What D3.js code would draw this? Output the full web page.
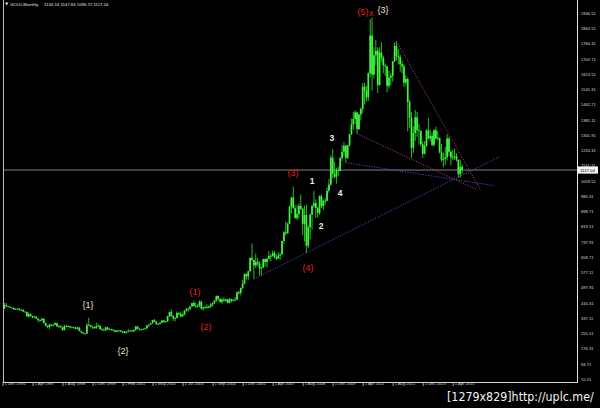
<!DOCTYPE html>
<html>
<head>
<meta charset="utf-8">
<script src="https://cdnjs.cloudflare.com/ajax/libs/d3/7.8.5/d3.min.js"></script>
<style>
  html, body { margin: 0; padding: 0; background: #000; }
  svg { display: block; }
</style>
</head>
<body>
<svg id="chart" width="600" height="408"></svg>
<script>
// GOLD monthly bars, Dec 1995 .. Sep 2015 (broker feed has a few extra bars in 2000-2005)
const firstOpen = 385;
const closes = [
  387,
  405,400,396,392,391,382,385,386,379,379,371,369,
  345,358,348,340,345,334,326,325,332,311,296,290,
  302,297,301,310,293,296,288,273,294,292,294,288,
  287,287,280,286,268,261,255,255,299,299,291,290,
  283,293,296,278,275,272,288,276,279,277,273,264,269,272,265,267,
  258,264,267,271,266,273,293,279,275,277,279,282,297,302,309,326,
  318,304,306,312,324,317,319,347,368,347,336,337,364,358,346,354,
  376,384,386,398,416,400,396,402,424,387,394,396,391,398,408,416,
  429,453,438,422,434,428,436,417,436,429,432,434,473,470,496,517,
  569,556,583,654,643,614,633,624,599,604,648,632,
  650,665,662,680,658,650,666,673,743,789,783,834,
  923,972,916,865,885,928,913,833,880,718,815,882,
  928,942,917,891,979,927,955,955,1008,1040,1182,1096,
  1081,1118,1113,1180,1213,1245,1181,1248,1307,1357,1386,1421,
  1333,1410,1439,1556,1536,1500,1628,1826,1620,1722,1746,1565,
  1737,1710,1669,1664,1561,1604,1614,1690,1772,1719,1713,1675,
  1663,1578,1597,1476,1393,1234,1312,1395,1327,1323,1253,1202,
  1244,1326,1284,1296,1250,1327,1283,1287,1210,1171,1175,1184,
  1283,1213,1183,1184,1190,1172,1095,1134.14,1117.04
];
const highs = [
  389,
  417,416,401,397,395,392,388,390,388,384,384,372,
  370,366,360,349,348,345,335,330,339,337,313,298,
  307,304,304,316,312,299,297,290,300,302,298,297,
  293,293,290,292,290,270,262,259,310,338,302,294,
  293,313,306,298,285,282,291,291,283,281,277,273,273,275,272,269,
  268,267,279,274,272,278,294,293,285,281,283,285,301,305,311,328,
  332,322,310,316,328,326,322,349,372,382,352,342,372,366,371,364,
  378,390,392,400,417,428,420,409,430,428,396,402,409,402,416,419,
  431,456,456,439,441,446,438,437,443,440,436,448,476,480,497,538,
  573,573,587,655,730,644,677,654,636,609,650,650,
  653,690,673,692,691,672,684,679,745,795,845,840,
  930,975,1030,932,934,942,988,917,930,935,825,888,
  933,1006,962,924,984,990,961,968,1025,1071,1195,1227,
  1162,1128,1135,1185,1249,1265,1250,1250,1308,1388,1424,1432,
  1424,1412,1448,1576,1577,1561,1632,1912,1921,1764,1803,1764,
  1764,1791,1720,1679,1665,1640,1628,1692,1790,1796,1755,1726,
  1694,1676,1617,1605,1488,1423,1348,1434,1424,1361,1326,1268,
  1270,1332,1392,1331,1315,1332,1345,1323,1287,1255,1208,1239,
  1307,1293,1220,1224,1232,1205,1172,1170,1147.84
];
const lows = [
  383,
  385,394,393,390,389,380,380,384,377,378,370,366,
  344,339,345,337,339,333,314,318,320,307,292,283,
  278,293,292,299,290,284,287,271,272,288,290,283,
  285,284,278,277,267,257,252,252,254,295,288,279,
  281,282,290,276,272,270,271,275,274,270,267,263,263,266,262,255,
  256,255,262,265,264,265,271,278,271,272,276,276,281,290,300,308,
  315,302,301,302,311,311,314,317,342,345,322,319,335,352,340,342,
  352,370,370,378,397,398,390,394,394,381,375,385,387,389,390,397,
  411,423,428,418,411,423,423,414,414,418,424,425,432,459,456,490,
  515,540,536,582,635,543,600,612,561,560,600,609,
  603,645,636,662,651,642,649,643,671,729,773,782,
  833,886,913,860,852,860,907,774,740,681,705,752,
  802,917,865,866,880,916,905,933,952,997,1035,1075,
  1072,1045,1088,1110,1165,1190,1156,1175,1241,1301,1330,1360,
  1309,1328,1381,1416,1462,1478,1480,1605,1535,1600,1669,1523,
  1562,1689,1628,1612,1527,1547,1564,1583,1687,1694,1673,1635,
  1626,1555,1562,1321,1338,1180,1206,1270,1292,1251,1241,1181,
  1200,1238,1277,1268,1241,1240,1281,1273,1205,1160,1132,1142,
  1167,1191,1142,1170,1170,1162,1077,1077,1096.72
];

// time axis labels, one every 16 bars
const dateLabels = ["1 Dec 1995","1 Apr 1997","1 Aug 1998","1 Dec 1999","1 Feb 2001","1 May 2002",
  "1 Jul 2003","1 Sep 2004","1 Dec 2005","1 Apr 2007","1 Aug 2008","1 Dec 2009",
  "1 Apr 2011","1 Aug 2012","1 Dec 2013","1 Apr 2015"];
const barsPerLabel = 16;

const priceTicks = [1946.51,1863.51,1784.31,1702.71,1623.51,1541.31,1462.71,1381.11,1301.91,
  1220.31,1141.11,1059.51,980.31,898.71,819.51,737.91,658.71,577.11,497.91,416.31,
  337.11,255.51,176.31,94.71,15.51];

const symbol = "GOLD,Monthly";
const lastOHLC = [1134.14, 1147.84, 1096.72, 1117.04];
const lastPrice = 1117.04;

// wave counts: [text, bar index, price, kind]
const waveLabels = [
  ["{1}", 45.6, 406, "major"], ["{2}", 64.2, 163, "major"], ["{3}", 202.8, 1960, "major"],
  ["(1)", 102.6, 474, "inter"], ["(2)", 108.5, 290, "inter"], ["(3)", 154.9, 1101, "inter"],
  ["(4)", 162.9, 601, "inter"], ["(5)", 192.2, 1950, "inter"], ["x", 196.6, 1944, "inter"],
  ["1", 165, 1059, "minor"], ["2", 169.8, 822, "minor"], ["3", 175.6, 1286, "minor"], ["4", 179.9, 996, "minor"]
];

// trend lines: [bar index, price] -> [bar index, price]
const trendLines = [
  { from: [134, 543], to: [265, 1188], kind: "blue" },
  { from: [183, 1156], to: [262, 1035], kind: "blue" },
  { from: [189, 1309], to: [253, 1012], kind: "pink" },
  { from: [210, 1796], to: [255, 1008], kind: "pink" }
];

const waveColor = { major: "#efe3c2", inter: "#e8201c", minor: "#ececec" };
const lineColor = { blue: "#5a54d8", pink: "#b0409e" };

const svg = d3.select("#chart");
const plot = { left: 3, right: 577, top: 0, bottom: 382 };

svg.append("rect").attr("width", 600).attr("height", 408).attr("fill", "#000");

const x = d3.scaleLinear().domain([0, 240]).range([2.5, 2.5 + 240 * 1.876]);
const y = d3.scaleLinear().domain([15.51, 1946.51]).range([379, 12.7]);

svg.append("clipPath").attr("id", "plotclip")
  .append("rect")
  .attr("x", plot.left).attr("y", plot.top)
  .attr("width", plot.right - plot.left).attr("height", plot.bottom - plot.top);

const g = svg.append("g").attr("clip-path", "url(#plotclip)");

// bid line
g.append("line")
  .attr("x1", 0).attr("x2", plot.right)
  .attr("y1", y(lastPrice)).attr("y2", y(lastPrice))
  .attr("stroke", "#8e8e8e").attr("stroke-width", 0.9);

// candles
const bars = closes.map((c, i) => ({
  i, o: i === 0 ? firstOpen : closes[i - 1], h: highs[i], l: lows[i], c
}));

g.selectAll(".wick").data(bars).enter().append("line")
  .attr("class", "wick")
  .attr("x1", d => x(d.i)).attr("x2", d => x(d.i))
  .attr("y1", d => y(d.h)).attr("y2", d => y(d.l))
  .attr("stroke", "#28d428").attr("stroke-width", 0.9);

g.selectAll(".body").data(bars).enter().append("rect")
  .attr("class", "body")
  .attr("x", d => x(d.i) - 0.85)
  .attr("width", 1.7)
  .attr("y", d => y(Math.max(d.o, d.c)))
  .attr("height", d => Math.max(0.8, Math.abs(y(d.o) - y(d.c))))
  .attr("fill", "#40f540");

// trend lines
g.selectAll(".trend").data(trendLines).enter().append("line")
  .attr("class", "trend")
  .attr("x1", d => x(d.from[0])).attr("y1", d => y(d.from[1]))
  .attr("x2", d => x(d.to[0])).attr("y2", d => y(d.to[1]))
  .attr("stroke", d => lineColor[d.kind])
  .attr("stroke-width", 0.9)
  .attr("stroke-dasharray", "1.2,1.4");

// wave labels
svg.selectAll(".wave").data(waveLabels).enter().append("text")
  .attr("class", "wave")
  .attr("x", d => x(d[1])).attr("y", d => y(d[2]))
  .attr("text-anchor", "middle").attr("dominant-baseline", "central")
  .attr("font-family", "Liberation Sans, Arial, sans-serif")
  .attr("font-size", d => d[3] === "minor" ? 8.5 : 9)
  .attr("font-weight", d => d[3] === "minor" ? "bold" : "normal")
  .attr("fill", d => waveColor[d[3]])
  .text(d => d[0]);

// frame lines
svg.append("line").attr("x1", plot.left + 0.5).attr("x2", plot.left + 0.5)
  .attr("y1", 0).attr("y2", plot.bottom).attr("stroke", "#bdbdbd").attr("stroke-width", 1);
svg.append("line").attr("x1", plot.left).attr("x2", plot.right)
  .attr("y1", plot.bottom + 0.5).attr("y2", plot.bottom + 0.5).attr("stroke", "#d8d8d8").attr("stroke-width", 1);
svg.append("line").attr("x1", plot.right + 0.5).attr("x2", plot.right + 0.5)
  .attr("y1", 0).attr("y2", plot.bottom + 1).attr("stroke", "#e6e6e6").attr("stroke-width", 1);

// price axis
const yAxis = d3.axisRight(y).tickValues(priceTicks).tickSize(0).tickPadding(4)
  .tickFormat(d3.format(".2f"));
const ya = svg.append("g").attr("transform", `translate(${plot.right},0)`).call(yAxis);
ya.select(".domain").remove();
ya.selectAll("text").attr("fill", "#d8d8d8")
  .attr("font-family", "Liberation Sans, Arial, sans-serif").attr("font-size", 4.1);

// time axis
const tickIdx = dateLabels.map((_, k) => k * barsPerLabel);
const xAxis = d3.axisBottom(x).tickValues(tickIdx).tickSize(4).tickSizeOuter(0)
  .tickFormat((d, k) => dateLabels[k]);
const xa = svg.append("g").attr("transform", `translate(0,${plot.bottom})`).call(xAxis);
xa.select(".domain").remove();
xa.selectAll("line").attr("stroke", "#cfcfcf").attr("stroke-width", 0.8);
xa.selectAll("text").attr("fill", "#d0d0d0")
  .attr("text-anchor", "start").attr("dx", 1.5).attr("dy", 0).attr("y", 2.5)
  .attr("font-family", "Liberation Sans, Arial, sans-serif").attr("font-size", 4.1);

// last price tag
const tagY = y(lastPrice);
svg.append("rect").attr("x", plot.right + 1).attr("y", tagY - 3.6)
  .attr("width", 20).attr("height", 7.2).attr("fill", "#f4f4f4");
svg.append("text").attr("x", plot.right + 3).attr("y", tagY)
  .attr("dominant-baseline", "central").attr("fill", "#000")
  .attr("font-family", "Liberation Sans, Arial, sans-serif").attr("font-size", 4.3)
  .text(d3.format(".2f")(lastPrice));

// title line
svg.append("path").attr("d", "M5,2.6 L8.4,2.6 L6.7,5.4 Z").attr("fill", "#dcdcdc");
svg.append("text").attr("x", 10).attr("y", 5.6)
  .attr("fill", "#e0e0e0").attr("font-family", "Liberation Sans, Arial, sans-serif")
  .attr("font-size", 4.3).text(symbol);
svg.append("text").attr("x", 44).attr("y", 5.6)
  .attr("fill", "#e0e0e0").attr("font-family", "Liberation Sans, Arial, sans-serif")
  .attr("font-size", 4.3).text(lastOHLC.map(d3.format(".2f")).join(" "));

// watermark, squeezed horizontally to the reference width
const wm = svg.append("text")
  .attr("fill", "#f2f2f2").attr("font-family", "DejaVu Sans Condensed, DejaVu Sans, sans-serif")
  .attr("font-size", 13)
  .text("[1279x829]http://uplc.me/");
const wmLen = wm.node().getComputedTextLength();
wm.attr("transform", `translate(447,401) scale(${147 / wmLen},1)`);
</script>
</body>
</html>
